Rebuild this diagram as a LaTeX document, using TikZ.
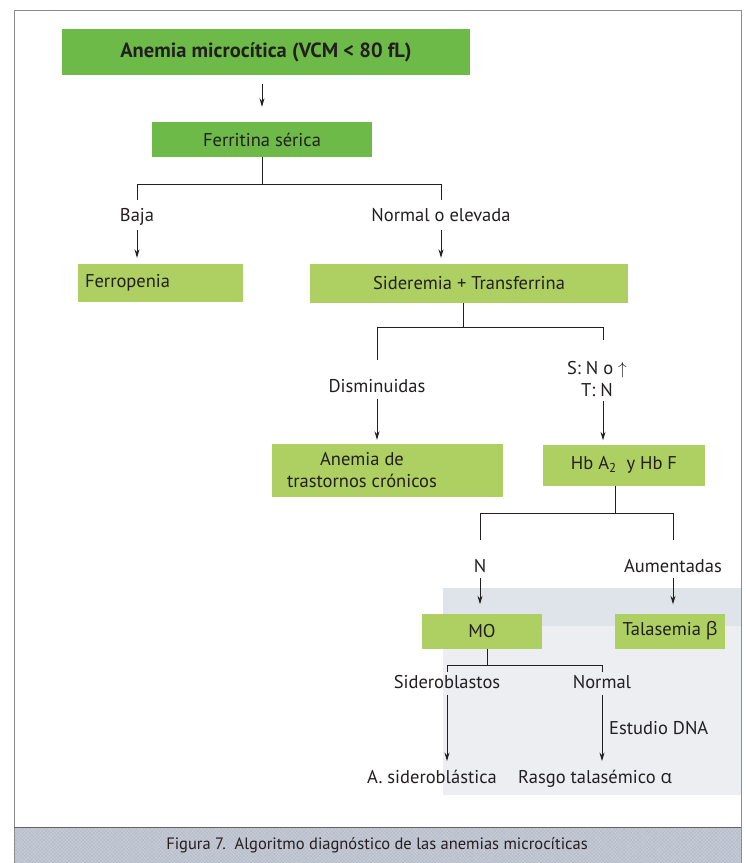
\documentclass[tikz,border=0pt]{standalone}
\usepackage{fontspec}
\setmainfont{PT Sans}
\newfontfamily\greekf{Open Sans}
\usetikzlibrary{arrows.meta,patterns.meta}
\definecolor{ink}{HTML}{231F20}
\definecolor{gdark}{HTML}{6DBA48}
\definecolor{glite}{HTML}{AECF62}
\definecolor{frameline}{HTML}{8C8C8C}
\definecolor{band}{HTML}{C6CBD6}
\definecolor{bandhatch}{HTML}{B3B9C6}
\definecolor{panel}{HTML}{ECEEF2}
\definecolor{panelhead}{HTML}{DFE3EA}
\begin{document}
\begin{tikzpicture}[x=1pt,y=-1pt,
  txt/.style={font=\fontsize{18.5}{22}\selectfont, text=ink},
  lbl/.style={txt, inner sep=0pt, text height=13pt, text depth=4.5pt},
  boxdark/.style={txt, fill=gdark, inner sep=0pt},
  boxlite/.style={txt, fill=glite, inner sep=0pt},
  ln/.style={draw=ink, line width=0.9pt},
  arr/.style={ln, -{Stealth[length=8.5pt,width=5pt]}},
  capt/.style={font=\fontsize{16.5}{20}\selectfont, text=ink, inner sep=0pt}
]
\useasboundingbox (0,0) rectangle (746,863);
\fill[white] (0,0) rectangle (746,863);
% tinted panel of the page underneath, with its header strip
\fill[panel] (443,588) rectangle (741,795);
\fill[panelhead] (443,588) rectangle (741,626);
% frame and screened caption band
\fill[band] (14,827) rectangle (741,863);
\fill[pattern={Lines[angle=45,distance=2.5pt,line width=0.35pt]}, pattern color=bandhatch] (14,827) rectangle (741,863);
\fill[pattern={Lines[angle=-45,distance=2.5pt,line width=0.35pt]}, pattern color=bandhatch] (14,827) rectangle (741,863);
\draw[frameline, line width=0.9pt] (14,863) -- (14,10) -- (741,10) -- (741,863);
\draw[frameline!70!black, line width=0.9pt] (14,827) -- (741,827);
\node[capt] (caption) at (377,845) {Figura 7.\ \ Algoritmo diagnóstico de las anemias microcíticas};

% boxes
\node[boxdark, minimum width=408pt, minimum height=46pt, font=\fontsize{20.5}{24}\selectfont\bfseries] (vcm) at (266,52) {Anemia microcítica (VCM < 80 fL)};
\node[boxdark, minimum width=220pt, minimum height=35pt] (ferr) at (262,139.5) {Ferritina sérica};
\node[boxlite, minimum width=165pt, minimum height=38pt, text width=151pt, align=left, inner xsep=7pt] (ferro) at (160.5,283) {Ferropenia};
\node[boxlite, minimum width=318pt, minimum height=39pt] (sider) at (469,283.5) {Sideremia + Transferrina};
\node[boxlite, minimum width=231pt, minimum height=53pt, anchor=east] (atc) at (503,470.5) {};
\node[txt, inner sep=0pt, align=center] (atctext) at (362,470.5) {Anemia de\\trastornos crónicos};
\node[boxlite, minimum width=162pt, minimum height=41pt] (hb) at (624,465) {Hb A\textsubscript{2}\ \ y Hb F};
\node[boxlite, minimum width=120pt, minimum height=35pt] (mo) at (482,631) {MO};
\node[boxlite, minimum width=110pt, minimum height=35pt] (tal) at (670,631) {Talasemia {\greekf β}};

% labels
\node[lbl] (baja) at (137,217) {Baja};
\node[lbl] (norm) at (441,217) {Normal o elevada};
\node[lbl] (dism) at (377,388) {Disminuidas};
\node[txt, inner sep=0pt, align=center, anchor=south] (snt) at (597,397) {S: N o $\uparrow$\\T: N};
\node[lbl] (nn) at (480,568) {N};
\node[lbl] (aum) at (673,568) {Aumentadas};
\node[lbl] (sidb) at (447,684) {Sideroblastos};
\node[lbl] (nrm) at (602,684) {Normal};
\node[lbl, anchor=west] (dna) at (609,730) {Estudio DNA};
\node[lbl] (asid) at (432,779) {A. sideroblástica};
\node[lbl] (rasgo) at (595,779) {Rasgo talasémico {\greekf α}};

% junctions
\coordinate (j1) at (262,184);
\coordinate (j2) at (463,327);
\coordinate (sr) at (603,340);
\coordinate (j3) at (615,513);
\coordinate (j4) at (487,665);

% connectors
\draw[arr, shorten <=9pt, shorten >=15pt] (vcm.south -| ferr.north) -- (ferr.north);

\draw[ln] (ferr.south) -- (j1);
\draw[ln, shorten >=8pt] (j1) -| (baja.north);
\draw[ln, shorten >=8pt] (j1) -| (norm.north);
\draw[arr, shorten <=4pt, shorten >=6pt] (baja.south) -- (baja.south |- ferro.north);
\draw[arr, shorten <=4pt, shorten >=6pt] (norm.south) -- (norm.south |- sider.north);

\draw[ln] (j2 |- sider.south) -- (j2);
\draw[ln, shorten >=19pt] (j2) -| (dism.north);
\draw[ln] (j2) -| (sr);
\draw[arr, shorten <=2pt, shorten >=4pt] (dism.south) -- (dism.south |- atc.north);
\draw[arr, shorten <=4pt, shorten >=4pt] (sr |- snt.south) -- (sr |- hb.north);

\draw[ln] (j3 |- hb.south) -- (j3);
\draw[ln, shorten >=19pt] (j3) -| (nn.north);
\draw[ln, shorten >=19pt] (j3) -| (aum.north);
\draw[arr, shorten <=1pt, shorten >=9pt] (nn.south) -- (nn.south |- mo.north);
\draw[arr, shorten <=1pt, shorten >=9pt] (aum.south) -- (aum.south |- tal.north);

\draw[ln] (j4 |- mo.south) -- (j4);
\draw[ln, shorten >=3pt] (j4) -| (sidb.north);
\draw[ln, shorten >=3pt] (j4) -| (nrm.north);
\draw[arr, shorten <=2pt, shorten >=9pt] (sidb.south) -- (sidb.south |- asid.north);
\draw[arr, shorten <=2pt, shorten >=9pt] (nrm.south) -- (nrm.south |- rasgo.north);
\end{tikzpicture}
\end{document}
